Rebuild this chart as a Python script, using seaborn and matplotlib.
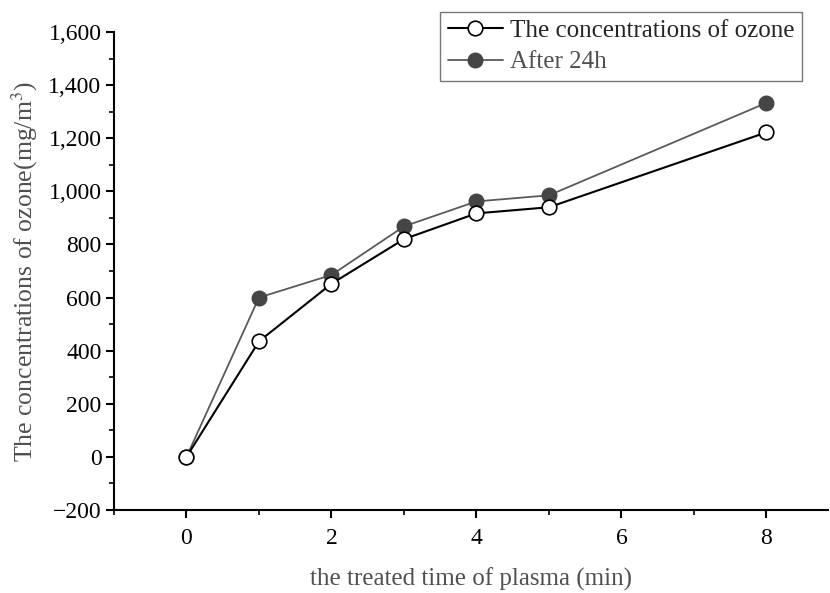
import matplotlib
matplotlib.use("Agg")
import matplotlib.pyplot as plt
import seaborn as sns
import pandas as pd
import numpy as np
from matplotlib.ticker import MultipleLocator, FuncFormatter

# ---- data ----
times = [0, 1, 2, 3, 4, 5, 8]
ozone = [0, 435, 652, 820, 917, 940, 1222]
after24h = [0, 600, 685, 868, 962, 985, 1333]
series_names = ["The concentrations of ozone", "After 24h"]
x_label = "the treated time of plasma (min)"
y_label = "The concentrations of ozone(mg/m$^3$)"

sns.set_style("ticks")
plt.rcParams['font.family'] = ['Liberation Serif', 'DejaVu Serif']
plt.rcParams['mathtext.fontset'] = 'stix'

df = pd.DataFrame({"time": times, "ozone": ozone, "after": after24h})

fig = plt.figure(figsize=(8.3, 5.93), dpi=100)
ax = fig.add_axes([114/830, 1 - 510/593, (828-114)/830, (510-32)/593])

gray_line = "#5a5a5a"
dark_fill = "#454545"

sns.lineplot(data=df, x="time", y="after", ax=ax, color=gray_line, lw=1.3,
             marker="o", markersize=10.5, markerfacecolor=dark_fill,
             markeredgecolor=dark_fill, markeredgewidth=1.0, label=series_names[1], zorder=2)
sns.lineplot(data=df, x="time", y="ozone", ax=ax, color="black", lw=1.5,
             marker="o", markersize=10.5, markerfacecolor="white",
             markeredgecolor="black", markeredgewidth=1.2, label=series_names[0], zorder=3)

ax.set_xlim(-1, 8.85)
ax.set_ylim(-200, 1600)
ax.xaxis.set_major_locator(MultipleLocator(2))
ax.xaxis.set_minor_locator(MultipleLocator(1))
ax.yaxis.set_major_locator(MultipleLocator(200))
ax.yaxis.set_minor_locator(MultipleLocator(100))
ax.yaxis.set_major_formatter(FuncFormatter(lambda v, p: f"{int(v):,}".replace("-", "\u2212")))
ax.xaxis.set_major_formatter(FuncFormatter(lambda v, p: f"{int(v)}"))

for s in ["top", "right"]:
    ax.spines[s].set_visible(False)
for s in ["left", "bottom"]:
    ax.spines[s].set_linewidth(1.5)
    ax.spines[s].set_color("black")

ax.tick_params(axis="both", which="major", direction="out", length=6, width=1.5,
               labelsize=17, colors="black", pad=3)
ax.tick_params(axis="both", which="minor", direction="out", length=3.5, width=1.2, colors="black")
ax.tick_params(axis="x", which="major", pad=7)

ax.set_xlabel(x_label, fontsize=18, color="#505050", labelpad=13)
ax.set_ylabel(y_label, fontsize=18.5, color="#505050", labelpad=6)

handles, labels = ax.get_legend_handles_labels()
order = [labels.index(series_names[0]), labels.index(series_names[1])]
handles = [handles[i] for i in order]
labels = [labels[i] for i in order]
leg = ax.legend(handles, labels, loc="upper right", bbox_to_anchor=(802/830, 1 - 12/593),
                bbox_transform=fig.transFigure, borderaxespad=0, frameon=True, fancybox=False,
                framealpha=1, edgecolor="#777777", fontsize=18, handlelength=2.2,
                handletextpad=0.3, borderpad=0.3, labelspacing=0.35, numpoints=1)
leg.get_frame().set_linewidth(1.0)
leg.get_texts()[1].set_color("#505050")

fig.savefig("out.png", dpi=100)
